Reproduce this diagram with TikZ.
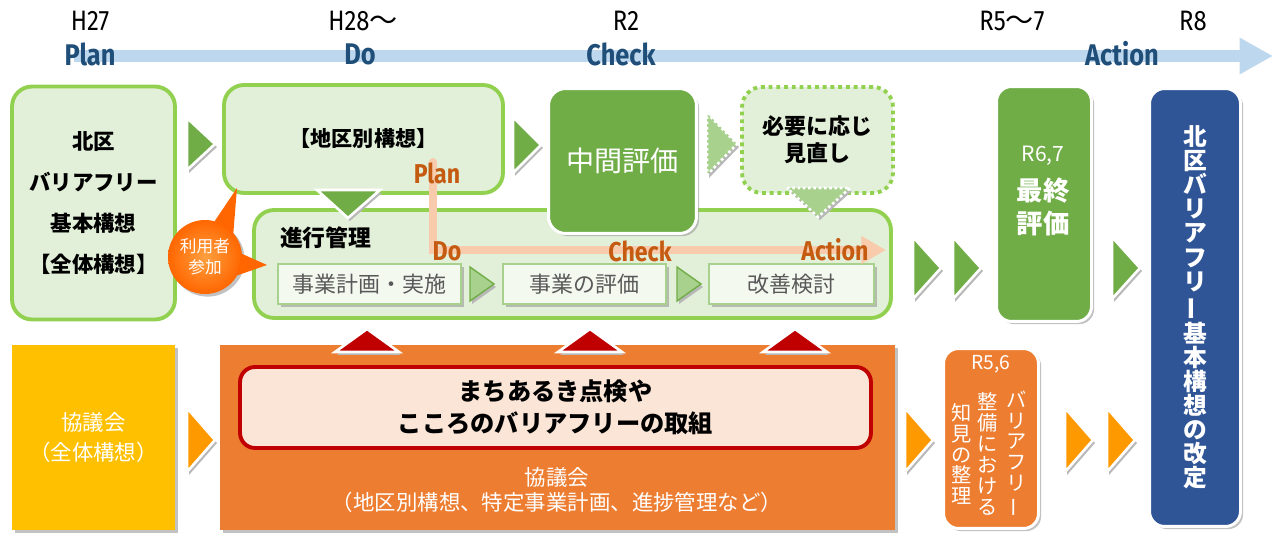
\documentclass[tikz,border=0pt]{standalone}
\usepackage{fontspec}
\usepackage{graphicx}
\setmainfont{Noto Sans CJK JP}
\newfontfamily\latfont{Fira Sans}[FakeStretch=0.85]
\usetikzlibrary{arrows.meta,shapes,shadows,calc,positioning}

\definecolor{greenBg}{HTML}{E2F0D9}
\definecolor{greenBd}{HTML}{92D050}
\definecolor{greenD}{HTML}{70AD47}
\definecolor{greenL}{HTML}{A9D18E}
\definecolor{subBg}{HTML}{F4F9F0}
\definecolor{grayTx}{HTML}{595959}
\definecolor{orangeB}{HTML}{ED7D31}
\definecolor{orangeC}{HTML}{FF9900}
\definecolor{yellowB}{HTML}{FFC000}
\definecolor{redB}{HTML}{C00000}
\definecolor{peach}{HTML}{FBE5D6}
\definecolor{blueB}{HTML}{2F5597}
\definecolor{blueL}{HTML}{BDD7EE}
\definecolor{blueTx}{HTML}{1F4E79}
\definecolor{pdcaL}{HTML}{F8CBAD}
\definecolor{pdcaTx}{HTML}{C55A11}
\definecolor{calloutD}{HTML}{FF6600}
\definecolor{calloutL}{HTML}{FFA040}

\newcommand{\setfs}[2]{\fontsize{#1}{#2}\selectfont}
\newcommand{\choon}{\rotatebox[origin=c]{90}{ー}}

\tikzstyle{every node}=[inner sep=0pt,outer sep=0pt]
\tikzstyle{softshadow}=[drop shadow={shadow xshift=1.5pt,shadow yshift=-1.5pt,fill=black!40,opacity=.6}]
\tikzstyle{greenbox}=[rectangle,rounded corners=0.4cm,draw=greenBd,line width=2.2pt,fill=greenBg,align=center]
\tikzstyle{dotbox}=[greenbox,dash pattern=on 2.2pt off 2.2pt,line cap=butt]
\tikzstyle{darkbox}=[rectangle,rounded corners=0.34cm,draw=white,line width=1.7pt,fill=greenD,text=white,align=center,softshadow]
\tikzstyle{subbox}=[rectangle,draw=greenL,line width=1.2pt,fill=subBg,text=grayTx,font=\setfs{12.5}{14},softshadow]
\tikzstyle{bluebox}=[darkbox,fill=blueB,rounded corners=0.3cm]
\tikzstyle{orangebox}=[darkbox,fill=orangeB,rounded corners=0.3cm]
\tikzstyle{redbox}=[rectangle,rounded corners=0.3cm,draw=redB,line width=2.2pt,fill=peach,align=center]
\tikzstyle{vcol}=[text=white,align=center,font=\setfs{11.5}{11.9}]
\tikzstyle{yearlab}=[font=\latfont\setfs{16}{18}]
\tikzstyle{phaselab}=[font=\latfont\bfseries\setfs{17}{19},text=blueTx]
\tikzstyle{pdcalab}=[font=\latfont\bfseries\setfs{15.5}{17},text=pdcaTx]
\tikzstyle{timeline}=[draw=blueL,line width=6.8pt,-{Triangle[length=19pt,width=19.5pt]}]
\tikzstyle{pdcaline}=[draw=pdcaL,line width=4.5pt,line cap=round,-{Triangle[length=14pt,width=15pt]}]
\tikzstyle{callout}=[circle,minimum size=1.48cm,inner color=calloutL,outer color=calloutD,text=white,align=center,font=\setfs{9.5}{12},softshadow]
\tikzstyle{chevG}=[fill=greenD,draw=white,line width=1.5pt]
\tikzstyle{chevO}=[fill=orangeC,draw=white,line width=1.5pt]
\tikzstyle{chevS}=[fill=greenL,draw=greenD,line width=0.8pt]
\tikzstyle{chevD}=[fill=greenL,draw=white,line width=1.5pt,dash pattern=on 1.5pt off 1.5pt,line cap=butt]

\tikzset{
  chev w/.store in=\chevw, chev h/.store in=\chevh,
  chev w=28, chev h=26,
  chevron/.pic={
    \fill[black!28] (2,3-\chevh) -- (\chevw+2,3) -- (2,3+\chevh) -- cycle;
    \path[pic actions] (0,-\chevh) -- (\chevw,0) -- (0,\chevh) -- cycle;
  },
}

\begin{document}
\begin{tikzpicture}[x=0.02cm,y=-0.02cm]
\useasboundingbox (0,0) rectangle (1276,536);

\coordinate (tstart) at (74,56);
\coordinate (tend) at (1273,56);
\draw[timeline] (tstart) -- (tend);
\node[yearlab] (yH27) at (90,21) {H27};
\node[yearlab] (yH28) at (363,21) {H28{\normalfont 〜}};
\node[yearlab] (yR2) at (626,21) {R2};
\node[yearlab] (yR5) at (1012,21) {R5{\normalfont 〜}7};
\node[yearlab] (yR8) at (1193,21) {R8};
\node[phaselab] (plan) at (90,54) {Plan};
\node[phaselab] (do) at (360,54) {Do};
\node[phaselab] (check) at (621,54) {Check};
\node[phaselab] (action) at (1122,54) {Action};

\node[greenbox,minimum width=3.26cm,minimum height=4.66cm,font=\setfs{12.2}{23.4}\bfseries] (zentai) at (93.5,203) {北区\\バリアフリー\\基本構想\\【全体構想】};
\node[greenbox,minimum width=5.58cm,minimum height=2.16cm,font=\setfs{12}{14}\bfseries] (chiku) at (363.5,139) {【地区別構想】};
\node[dotbox,minimum width=3.02cm,minimum height=2.12cm,font=\setfs{12.5}{15.3}\bfseries] (minaoshi) at (817.5,140) {必要に応じ\\見直し};
\node[greenbox,minimum width=12.74cm,minimum height=2.16cm] (shinko) at (572.5,264) {};
\node[anchor=west,font=\setfs{13}{15}\bfseries] (shinkolab) at (280,238) {進行管理};
\node[subbox,minimum width=3.66cm,minimum height=0.8cm] (jigyo) at (369.5,284) {事業計画・実施};
\node[subbox,minimum width=3.26cm,minimum height=0.8cm] (hyoka) at (584.5,284) {事業の評価};
\node[subbox,minimum width=3.30cm,minimum height=0.8cm] (kaizen) at (791.5,284) {改善検討};
\node[darkbox,minimum width=2.96cm,minimum height=2.90cm,font=\setfs{16}{18}] (chukan) at (622.5,161) {中間評価};

\pic[chevG,chev h=26] at (187,144) {chevron};
\pic[chevG,chev h=28] at (513,145) {chevron};
\pic[chevD,chev w=30,chev h=31] at (707,144) {chevron};
\pic[chevS,chev w=24,chev h=17] at (470,284) {chevron};
\pic[chevS,chev w=24,chev h=17] at (677,284) {chevron};
\fill[black!28] (319,193) -- (382,193) -- (350,221) -- cycle;
\filldraw[chevG] (317,190) -- (380,190) -- (348,218) -- cycle;
\fill[black!28] (789,191) -- (852,191) -- (820,220) -- cycle;
\filldraw[chevD] (787,188) -- (850,188) -- (818,217) -- cycle;

\coordinate (pdP) at (433,162);
\coordinate (pdD) at (433,250);
\coordinate (pdA) at (886,250);
\draw[pdcaline] (pdP) -- (pdD) -- (pdA);
\node[pdcalab] (lplan) at (437,173) {Plan};
\node[pdcalab] (ldo) at (447,251) {Do};
\node[pdcalab] (lcheck) at (640,251) {Check};
\node[pdcalab] (laction) at (835,250) {Action};

\node[fill=yellowB,softshadow,minimum width=3.26cm,minimum height=3.70cm,text=white,align=center,font=\setfs{12.2}{17.5}] (zenkyo) at (93.5,437.5) {協議会\\（全体構想）};
\node[fill=orangeB,softshadow,minimum width=13.5cm,minimum height=3.70cm] (chikukyo) at (557.5,437.5) {};
\node[redbox,minimum width=12.62cm,minimum height=1.62cm,font=\setfs{13.8}{18.1}\bfseries] (machi) at (555.5,407.5) {まちあるき点検や\\こころのバリアフリーの取組};
\node[text=white,align=center,font=\setfs{12.2}{14.2}] (chikukyotx) at (557,490) {協議会\\（地区別構想、特定事業計画、進捗管理など）};
\foreach \xx in {367,590,795}{
  \fill[black!28] (\xx-30,355) -- (\xx+34,355) -- (\xx+2,332) -- cycle;
  \filldraw[fill=redB,draw=white,line width=1.5pt] (\xx-32,352) -- (\xx+32,352) -- (\xx,329) -- cycle;
}

\node[darkbox,rounded corners=0.3cm,minimum width=1.90cm,minimum height=4.70cm] (saishu) at (1044,204) {};
\node[text=white,font=\setfs{12}{14}] (saishuyr) at (1043,156) {R6,7};
\node[text=white,align=center,font=\setfs{15}{18.7}\bfseries] (saishutx) at (1043,207) {最終\\評価};
\node[bluebox,minimum width=1.82cm,minimum height=8.76cm,font=\setfs{13.5}{13.7}\bfseries] (kaitei) at (1195,307.5) {北\\区\\バ\\リ\\ア\\フ\\リ\\\choon\\基\\本\\構\\想\\の\\改\\定};
\node[orangebox,minimum width=1.90cm,minimum height=3.60cm] (seiri) at (991,438.5) {};
\node[text=white,font=\setfs{11}{13}] (seiriyr) at (991,364) {R5,6};
\node[vcol] (seiri1) at (1017,454) {バ\\リ\\ア\\フ\\リ\\\choon};
\node[vcol] (seiri2) at (988,454) {整\\備\\に\\お\\け\\る};
\node[vcol] (seiri3) at (962,454) {知\\見\\の\\整\\理};

\foreach \xx in {913,953,1112}
  \pic[chevG,chev h=31] at (\xx,268) {chevron};
\foreach \xx in {187,905,1065,1107}
  \pic[chevO,chev h=32] at (\xx,440) {chevron};

\node[callout] (sanka) at (205,257) {利用者\\参加};
\fill[calloutD] (sanka.75) -- (237,188) -- (sanka.40) -- cycle;
\fill[calloutD] (sanka.5) -- (267,265) -- (sanka.-30) -- cycle;
\end{tikzpicture}
\end{document}
